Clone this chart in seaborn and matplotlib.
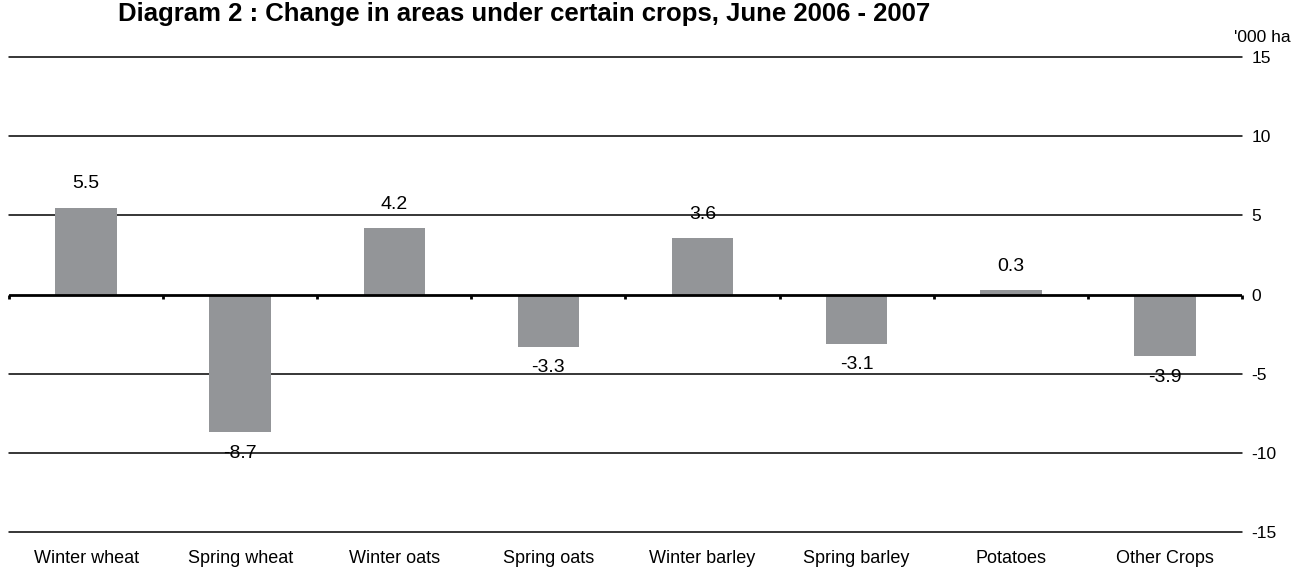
import numpy as np
import pandas as pd
import matplotlib
matplotlib.use("Agg")
import matplotlib.pyplot as plt
import seaborn as sns

crops = ["Winter wheat", "Spring wheat", "Winter oats", "Spring oats",
         "Winter barley", "Spring barley", "Potatoes", "Other Crops"]
change = [5.5, -8.7, 4.2, -3.3, 3.6, -3.1, 0.3, -3.9]
yticks = [-15, -10, -5, 0, 5, 10, 15]

data = pd.DataFrame({"crop": crops, "change": change})

sns.set_theme(style="white")
plt.rcParams["font.family"] = ["Liberation Sans", "DejaVu Sans"]
plt.rcParams["axes.unicode_minus"] = False

fig = plt.figure(figsize=(12.95, 5.71), dpi=100)
ax = fig.add_axes([0.007, 0.068, 0.952, 0.832])

# gridlines behind the bars
for t in yticks:
    if t != 0:
        ax.axhline(t, color="black", lw=1.1, zorder=0, clip_on=False)

sns.barplot(data=data, x="crop", y="change", color="#939598", width=0.4,
            saturation=1, linewidth=0, ax=ax, zorder=2)

# zero line with small ticks between categories
ax.axhline(0, color="black", lw=2, zorder=3)
bounds = np.arange(len(crops) + 1) - 0.5
ax.vlines(bounds, -0.3, 0, color="black", lw=2, zorder=3, clip_on=False)

for bar, v in zip(ax.patches, change):
    off = 17 if v >= 0 else -15
    ax.annotate(f"{v:.1f}", (bar.get_x() + bar.get_width() / 2, v),
                xytext=(0, off), textcoords="offset points",
                ha="center", va="center", fontsize=14, color="black", zorder=4)

ax.set_xlim(-0.5, len(crops) - 0.5)
ax.set_ylim(-15, 15)
ax.set_yticks(yticks)
ax.yaxis.tick_right()
ax.tick_params(axis="y", length=0, pad=7, labelsize=12.5, labelcolor="black")
ax.tick_params(axis="x", length=0, pad=13, labelsize=13, labelcolor="black")
ax.set_xlabel("")
ax.set_ylabel("")
for s in ax.spines.values():
    s.set_visible(False)

fig.text(0.405, 0.964, "Diagram 2 : Change in areas under certain crops, June 2006 - 2007",
         ha="center", va="baseline", fontsize=18.5, fontweight="bold", color="black")
fig.text(0.997, 0.935, "'000 ha", ha="right", va="center", fontsize=12.5, color="black")

fig.savefig("out.png", dpi=100)
